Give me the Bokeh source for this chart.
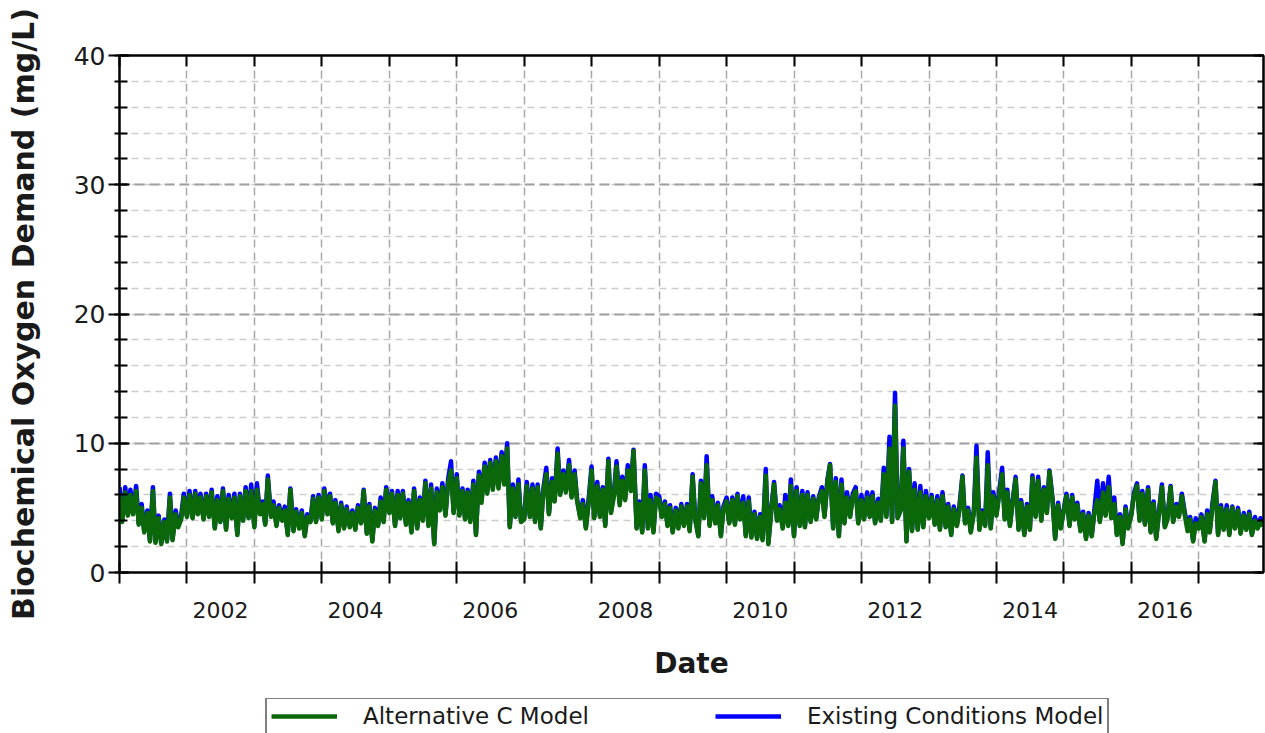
import pandas as pd
from bokeh.plotting import figure
from bokeh.layouts import column
from bokeh.models import (Range1d, FixedTicker, DatetimeAxis, LinearAxis,
                          CustomJSTickFormatter, Legend, LegendItem)
from bokeh.embed import file_html
from bokeh.resources import INLINE

# Semi-monthly BOD (mg/L), one row per year, 2001 - 2017
ALT_C = [
    6.1, 3.9, 6.2, 4.4, 6.0, 4.5, 6.3, 3.7, 5.0, 3.1, 4.6, 2.4, 6.3, 2.3, 4.2, 2.2, 3.9, 2.4, 5.8, 2.5, 4.5, 3.5, 4.1, 5.8,  # 2001
    4.3, 6.0, 4.2, 6.1, 4.5, 5.8, 4.1, 5.9, 4.3, 6.2, 3.4, 5.6, 3.9, 6.3, 3.3, 5.7, 4.2, 5.8, 2.9, 5.9, 4.0, 6.3, 4.2, 6.3,  # 2002
    3.5, 6.4, 4.5, 5.3, 3.7, 7.2, 4.3, 5.2, 3.6, 5.0, 4.0, 4.8, 2.9, 6.4, 3.2, 4.7, 3.4, 4.6, 2.8, 4.3, 3.9, 5.7, 3.9, 5.8,  # 2003
    4.1, 6.3, 4.5, 5.9, 3.8, 5.4, 3.2, 5.2, 3.4, 4.9, 3.5, 4.6, 3.3, 5.0, 3.8, 6.3, 3.0, 5.1, 2.4, 4.8, 3.6, 5.5, 3.9, 6.4,  # 2004
    4.6, 6.1, 3.6, 6.0, 4.2, 6.1, 3.7, 5.4, 3.1, 6.3, 3.4, 5.6, 4.0, 6.9, 3.6, 6.5, 2.2, 6.2, 4.8, 6.6, 4.4, 6.9, 7.9, 4.6,  # 2005
    7.3, 4.4, 6.3, 4.1, 6.2, 3.9, 6.8, 2.9, 7.5, 5.4, 8.2, 6.1, 8.5, 6.4, 8.6, 6.5, 9.0, 6.8, 9.6, 3.5, 6.5, 4.3, 6.8, 3.9,  # 2006
    4.1, 6.7, 4.3, 6.5, 3.9, 6.6, 3.4, 6.3, 7.6, 4.5, 7.0, 5.5, 9.2, 6.0, 7.6, 6.2, 8.3, 5.8, 7.6, 5.5, 4.2, 5.3, 3.4, 5.2,  # 2007
    7.9, 4.2, 6.7, 4.3, 6.4, 3.6, 8.6, 4.6, 5.9, 8.2, 5.2, 7.1, 5.6, 7.9, 6.3, 9.4, 3.4, 5.3, 3.1, 7.9, 3.4, 5.6, 3.1, 5.8,  # 2008
    5.6, 4.3, 5.3, 3.6, 5.0, 3.1, 4.8, 3.4, 5.1, 3.6, 5.1, 3.2, 7.4, 4.1, 2.8, 6.9, 4.2, 8.3, 3.6, 5.6, 3.8, 5.2, 2.8, 4.9,  # 2009
    5.5, 3.8, 5.6, 3.7, 5.9, 4.1, 5.4, 2.8, 5.5, 2.7, 4.5, 2.6, 4.3, 2.5, 7.5, 2.2, 4.9, 6.8, 4.0, 4.9, 3.4, 5.4, 3.6, 6.7,  # 2010
    2.8, 6.3, 3.6, 6.0, 3.5, 6.0, 3.9, 5.7, 4.1, 5.7, 6.3, 4.3, 7.0, 8.3, 3.4, 7.0, 2.8, 6.8, 3.8, 5.8, 4.3, 5.9, 6.3, 3.8,  # 2011
    5.6, 4.1, 5.8, 4.3, 5.9, 3.8, 5.4, 4.0, 7.6, 4.3, 9.6, 3.9, 12.9, 4.2, 4.8, 9.6, 2.4, 7.8, 3.2, 6.4, 3.3, 6.2, 3.5, 5.9,  # 2012
    4.2, 5.8, 3.7, 5.6, 3.3, 5.9, 3.5, 5.1, 2.9, 4.9, 3.6, 4.8, 7.4, 3.8, 4.8, 3.1, 4.6, 8.9, 3.3, 4.6, 3.6, 8.3, 3.4, 5.9,  # 2013
    4.4, 5.9, 7.6, 4.1, 6.2, 3.6, 5.6, 7.2, 3.3, 5.4, 2.9, 5.1, 3.3, 7.3, 4.3, 7.1, 4.0, 6.4, 4.6, 7.8, 5.5, 2.6, 5.2, 3.4,  # 2014
    4.8, 5.9, 3.6, 5.8, 4.1, 5.2, 3.2, 4.5, 2.6, 4.4, 2.8, 4.6, 5.6, 3.9, 6.2, 4.4, 6.6, 4.2, 5.3, 2.9, 4.3, 2.2, 4.9, 3.4,  # 2015
    4.4, 5.9, 6.7, 4.0, 6.1, 3.7, 6.4, 3.1, 5.3, 2.6, 4.8, 6.6, 3.5, 4.1, 6.6, 3.9, 5.1, 4.3, 5.9, 4.6, 3.2, 4.1, 2.4, 3.8,  # 2016
    3.4, 4.3, 2.4, 4.5, 3.1, 5.0, 7.0, 2.9, 5.0, 3.3, 4.9, 2.9, 5.0, 3.4, 4.8, 3.0, 4.4, 3.3, 4.5, 2.9, 4.0, 3.4, 3.9, 3.6,  # 2017
]

EXISTING = [
    6.6, 4.0, 6.6, 4.5, 6.4, 4.6, 6.7, 3.8, 5.3, 3.2, 4.8, 2.5, 6.6, 2.4, 4.4, 2.3, 4.1, 2.5, 6.1, 2.6, 4.8, 3.6, 4.4, 6.1,  # 2001
    4.4, 6.3, 4.3, 6.3, 4.6, 6.1, 4.2, 6.1, 4.4, 6.4, 3.5, 5.9, 4.0, 6.5, 3.4, 6.0, 4.3, 6.1, 3.0, 6.1, 4.1, 6.6, 4.3, 6.8,  # 2002
    3.6, 6.9, 4.6, 5.5, 3.8, 7.5, 4.4, 5.5, 3.7, 5.2, 4.1, 5.1, 3.0, 6.5, 3.3, 4.9, 3.5, 4.8, 2.9, 4.5, 4.0, 5.9, 4.0, 6.0,  # 2003
    4.2, 6.5, 4.6, 6.1, 3.9, 5.6, 3.3, 5.4, 3.5, 5.1, 3.6, 4.8, 3.4, 5.2, 3.9, 6.4, 3.1, 5.3, 2.5, 5.0, 3.7, 5.8, 4.0, 6.6,  # 2004
    4.7, 6.3, 3.7, 6.3, 4.3, 6.3, 3.8, 5.6, 3.2, 6.5, 3.5, 5.8, 4.1, 7.1, 3.7, 6.8, 2.3, 6.5, 4.9, 6.9, 4.5, 7.2, 8.6, 4.7,  # 2005
    7.6, 4.5, 6.5, 4.2, 6.4, 4.0, 7.1, 3.0, 7.8, 5.6, 8.5, 6.3, 8.7, 6.6, 8.9, 6.7, 9.3, 7.0, 10.0, 3.6, 6.8, 4.4, 7.2, 4.0,  # 2006
    4.2, 7.0, 4.4, 6.8, 4.0, 6.8, 3.5, 6.5, 8.1, 4.6, 7.3, 5.6, 9.6, 6.1, 7.9, 6.3, 8.7, 5.9, 7.9, 5.6, 4.3, 5.6, 3.5, 5.5,  # 2007
    8.2, 4.3, 7.0, 4.4, 6.6, 3.7, 8.8, 4.7, 6.2, 8.6, 5.4, 7.4, 5.8, 8.3, 6.5, 9.5, 3.5, 5.5, 3.2, 8.3, 3.5, 6.0, 3.2, 6.1,  # 2008
    5.9, 4.4, 5.5, 3.7, 5.2, 3.2, 5.0, 3.5, 5.3, 3.7, 5.3, 3.3, 7.6, 4.2, 2.9, 7.1, 4.3, 9.0, 3.7, 5.9, 3.9, 5.4, 2.9, 5.1,  # 2009
    5.8, 3.9, 5.8, 3.8, 6.1, 4.2, 5.9, 2.9, 5.8, 2.8, 4.7, 2.7, 4.5, 2.6, 8.0, 2.3, 5.1, 7.0, 4.1, 5.2, 3.5, 6.0, 3.7, 7.2,  # 2010
    2.9, 6.6, 3.7, 6.3, 3.6, 6.2, 4.0, 5.9, 4.2, 5.8, 6.6, 4.4, 7.2, 8.4, 3.5, 7.3, 2.9, 7.2, 3.9, 6.2, 4.4, 6.1, 6.6, 3.9,  # 2011
    6.0, 4.2, 6.2, 4.4, 6.2, 3.9, 5.7, 4.1, 8.1, 4.4, 10.5, 4.0, 13.9, 4.3, 5.0, 10.2, 2.5, 8.0, 3.3, 6.9, 3.4, 6.7, 3.6, 6.3,  # 2012
    4.3, 6.0, 3.8, 5.9, 3.4, 6.2, 3.6, 5.3, 3.0, 5.1, 3.7, 5.2, 7.5, 3.9, 5.0, 3.2, 4.8, 9.8, 3.4, 4.8, 3.7, 9.3, 3.5, 6.2,  # 2013
    4.5, 6.2, 8.1, 4.2, 6.4, 3.7, 5.8, 7.4, 3.4, 5.6, 3.0, 5.3, 3.4, 7.5, 4.4, 7.4, 4.1, 6.6, 4.7, 7.9, 5.7, 2.7, 5.4, 3.5,  # 2014
    4.9, 6.1, 3.7, 6.0, 4.2, 5.4, 3.3, 4.7, 2.7, 4.6, 2.9, 4.8, 7.1, 4.0, 6.9, 4.5, 7.4, 4.4, 5.8, 3.0, 4.5, 2.3, 5.1, 3.5,  # 2015
    4.5, 6.1, 6.9, 4.1, 6.3, 3.8, 6.6, 3.2, 5.5, 2.7, 5.0, 6.8, 3.6, 4.3, 6.7, 4.0, 5.3, 4.4, 6.1, 4.8, 3.5, 4.3, 2.5, 4.2,  # 2016
    3.5, 4.5, 2.5, 4.8, 3.2, 5.3, 7.1, 3.0, 5.2, 3.4, 5.2, 3.0, 5.1, 3.5, 5.0, 3.1, 4.6, 3.4, 4.7, 3.0, 4.3, 3.5, 4.2, 3.7,  # 2017
]

YEARS = list(range(2001, 2019))          # year boundaries for grid and ticks
LABEL_YEARS = [2002, 2004, 2006, 2008, 2010, 2012, 2014, 2016]
Y_MAJOR = [0, 10, 20, 30, 40]
Y_MINOR = list(range(0, 41, 2))

ALT_COLOR = "#0a680a"
EXIST_COLOR = "#0000ff"

dates = pd.date_range("2001-01-01", periods=len(ALT_C), freq="SMS")


def ms(ts):
    return pd.Timestamp(ts).value / 1e6


year_starts = [ms(f"{y}-01-01") for y in YEARS]
mid_years = [ms(f"{y}-07-02") for y in LABEL_YEARS]

FONT = "DejaVu Sans"
TEXT = "#1a1a1a"

p = figure(width=1265, height=698, output_backend="svg", toolbar_location=None,
           x_axis_type="datetime",
           x_range=Range1d(pd.Timestamp("2001-01-01"), pd.Timestamp("2017-12-17")),
           y_range=Range1d(0, 40),
           min_border_left=119, min_border_right=2, min_border_top=55,
           min_border_bottom=126)
p.outline_line_color = "black"
p.outline_line_width = 2
p.background_fill_color = "white"
p.border_fill_color = "white"

# bottom date axis: year labels centred in each year, ticks on year boundaries
xa = p.xaxis[0]
xa.ticker = FixedTicker(ticks=mid_years, minor_ticks=year_starts)
xa.formatter = CustomJSTickFormatter(code="return String(new Date(tick).getUTCFullYear())")
xa.major_tick_line_color = None
xa.major_tick_in = 0
xa.major_tick_out = 0
xa.minor_tick_in = 11
xa.minor_tick_out = 11
xa.minor_tick_line_color = "black"
xa.minor_tick_line_width = 2
xa.axis_line_color = "black"
xa.axis_line_width = 2
xa.major_label_text_font = FONT
xa.major_label_text_font_size = "22px"
xa.major_label_text_color = TEXT
xa.major_label_standoff = 18
xa.axis_label = "Date"
xa.axis_label_text_font = FONT
xa.axis_label_text_font_style = "bold"
xa.axis_label_text_font_size = "28px"
xa.axis_label_text_color = TEXT
xa.axis_label_standoff = 26

ya = p.yaxis[0]
ya.ticker = FixedTicker(ticks=Y_MAJOR, minor_ticks=Y_MINOR)
ya.major_tick_in = 10
ya.major_tick_out = 11
ya.minor_tick_in = 8
ya.minor_tick_out = 5
ya.major_tick_line_width = 2
ya.minor_tick_line_width = 2
ya.major_tick_line_color = "black"
ya.minor_tick_line_color = "black"
ya.axis_line_color = "black"
ya.axis_line_width = 2
ya.major_label_text_font = FONT
ya.major_label_text_font_size = "25px"
ya.major_label_text_color = TEXT
ya.major_label_standoff = 3
ya.axis_label = "Biochemical Oxygen Demand (mg/L)"
ya.axis_label_text_font = FONT
ya.axis_label_text_font_style = "bold"
ya.axis_label_text_font_size = "30px"
ya.axis_label_text_color = TEXT
ya.axis_label_standoff = 30

# top and right frame axes with inward ticks only
blank = CustomJSTickFormatter(code="return ''")
top = DatetimeAxis(ticker=FixedTicker(ticks=year_starts), formatter=blank,
                   major_tick_in=11, major_tick_out=0,
                   major_tick_line_width=2, axis_line_width=2, major_label_standoff=0)
p.add_layout(top, "above")
right = LinearAxis(ticker=FixedTicker(ticks=Y_MAJOR, minor_ticks=Y_MINOR), formatter=blank,
                   major_tick_in=10, major_tick_out=0, minor_tick_in=6, minor_tick_out=0,
                   major_tick_line_width=2, minor_tick_line_width=2, axis_line_width=2,
                   major_label_standoff=0)
p.add_layout(right, "right")

# dashed grid
p.xgrid.ticker = FixedTicker(ticks=year_starts)
p.xgrid.grid_line_color = "#a8a8a8"
p.xgrid.grid_line_dash = "8 5"
p.xgrid.grid_line_width = 1.5
p.ygrid.ticker = FixedTicker(ticks=Y_MAJOR, minor_ticks=Y_MINOR)
p.ygrid.grid_line_color = "#a0a0a0"
p.ygrid.grid_line_dash = "10 5"
p.ygrid.grid_line_width = 2
p.ygrid.minor_grid_line_color = "#cccccc"
p.ygrid.minor_grid_line_dash = "7 5"
p.ygrid.minor_grid_line_width = 1.5

p.line(dates, EXISTING, line_color=EXIST_COLOR, line_width=4.5, line_join="round")
p.line(dates, ALT_C, line_color=ALT_COLOR, line_width=4.5, line_join="round")

# legend strip under the chart; its key lines carry no visible data
leg = figure(width=1265, height=35, output_backend="svg", toolbar_location=None,
             x_range=Range1d(0, 1), y_range=Range1d(0, 1),
             x_axis_location=None, y_axis_location=None,
             min_border_left=0, min_border_right=0, min_border_top=0, min_border_bottom=0)
leg.outline_line_color = None
leg.xgrid.visible = False
leg.ygrid.visible = False
nan = float("nan")
key_alt = leg.line([nan], [nan], line_color=ALT_COLOR, line_width=4.5)
key_exist = leg.line([nan], [nan], line_color=EXIST_COLOR, line_width=4.5)

legend = Legend(items=[LegendItem(label="Alternative C Model", renderers=[key_alt]),
                       LegendItem(label="Existing Conditions Model", renderers=[key_exist])],
                orientation="horizontal", location=(146, -2), padding=4, spacing=126,
                glyph_width=66, label_standoff=26, margin=0,
                label_text_font=FONT, label_text_font_size="23px", label_text_color=TEXT,
                border_line_color="black", border_line_width=2,
                background_fill_color="white", background_fill_alpha=1)
leg.add_layout(legend)

open("out.html", "w").write(file_html(column(p, leg, spacing=0), INLINE))
